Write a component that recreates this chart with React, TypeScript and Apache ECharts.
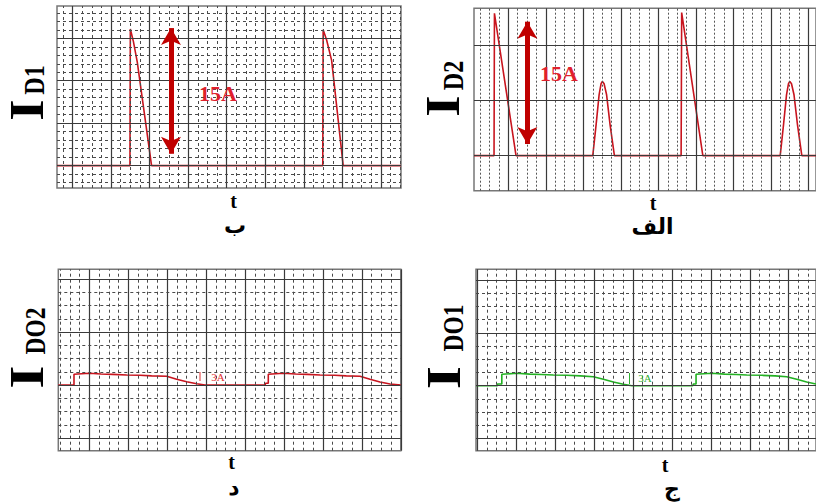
import React, { useEffect, useRef } from 'react';
import * as echarts from 'echarts';

// ---------- data (x in time divisions, y in amperes) ----------
// Panel ب : I_D1
const d1Time = [-0.4, 1.49, 1.5, 1.58, 1.68, 2.05, 6.49, 6.5, 6.59, 6.72, 7.02, 8.52];
const d1Current = [0, 0, 16.1, 14.6, 12.2, 0, 0, 16.0, 14.8, 12.4, 0, 0];

// Panel الف : I_D2
const d2Time = [-0.915, -0.381, -0.37, 0.205, 2.251, 2.339, 2.419, 2.472, 2.507, 2.552, 2.619, 2.712, 2.827,
  4.605, 4.62, 5.184, 7.246, 7.334, 7.414, 7.467, 7.502, 7.547, 7.614, 7.707, 7.822, 8.2];
const d2Current = [0, 0, 18.0, 0, 0, 3.9, 7.7, 9.1, 9.4, 9.1, 7.7, 3.9, 0,
  0, 18.1, 0, 0, 3.9, 7.7, 9.1, 9.4, 9.1, 7.7, 3.9, 0, 0];

// Panel د : I_DO2
const do2Time = [-0.796, -0.393, -0.393, 0.0, 0.3, 0.6, 0.96, 1.3, 1.6, 1.988, 2.244, 2.501, 2.758, 2.971,
  4.512, 4.53, 4.597, 4.597, 4.982, 5.3, 5.6, 5.925, 6.3, 6.6, 6.952, 7.209, 7.466, 7.723, 8.0];
const do2Current = [0, 0, 3.03, 3.31, 3.1, 3.0, 2.83, 2.75, 2.6, 2.46, 1.61, 0.93, 0.37, 0,
  0, 0.48, 0.48, 3.03, 3.31, 3.1, 3.0, 2.83, 2.75, 2.6, 2.46, 1.61, 0.85, 0.28, 0];

// Panel ج : I_DO1
const do1Time = [-1.027, -0.48, -0.48, -0.367, -0.367, 0.018, 0.35, 0.65, 0.957, 1.3, 1.65, 1.984, 2.241, 2.497, 2.754, 2.97,
  4.535, 4.551, 4.62, 4.62, 5.023, 5.35, 5.65, 5.921, 6.3, 6.65, 6.948, 7.205, 7.461, 7.7];
const do1Current = [0, 0, 0.48, 0.48, 3.24, 3.52, 3.3, 3.2, 3.04, 2.95, 2.8, 2.56, 1.82, 1.05, 0.4, 0,
  0, 0.48, 0.48, 3.24, 3.52, 3.3, 3.2, 3.04, 2.95, 2.8, 2.56, 1.82, 1.05, 0.48];

// 15A arrows [x, yFrom, yTo]
const arrowD1 = [2.554, 1.4, 16.2];
const arrowD2 = [0.507, 1.48, 16.95];

// axis extents [xMin, xMax, yMin, yMax, yMajor, yMinorCount]
const axesD1 = [-0.402, 8.519, -2.63, 18.8, 5, 5];
const axesD2 = [-0.915, 8.2, -4.43, 18.64, 7, 0];
const axesDO2 = [-0.796, 8.0, -18.59, 32.75, 15, 4];
const axesDO1 = [-1.03, 7.7, -18.48, 33.09, 15, 4];

const RED = '#c8141e';
const GREEN = '#22b022';

const majorStyle = { color: '#3a3a3a', width: 1.2, type: 'solid' as const };
const minorStyle = { color: '#4a4a4a', width: 1, type: [3, 3] as any };
const dotStyle = { color: '#555', width: 1, type: [2, 2] as any };

function gridLineData(ax: number[]) {
  const [xMin, xMax, yMin, yMax, yMajor, yMinorN] = ax;
  const out: any[] = [];
  const minorX = yMinorN > 0 ? minorStyle : dotStyle;
  for (let k = Math.ceil(xMin * 4 - 1e-6); k <= Math.floor(xMax * 4 + 1e-6); k++) {
    const v = k / 4;
    out.push({ xAxis: v, lineStyle: k % 4 === 0 ? majorStyle : minorX });
  }
  const step = yMinorN > 0 ? yMajor / yMinorN : yMajor;
  for (let k = Math.ceil(yMin / step - 1e-6); k <= Math.floor(yMax / step + 1e-6); k++) {
    const v = k * step;
    const isMajor = yMinorN > 0 ? k % yMinorN === 0 : true;
    out.push({ yAxis: v, lineStyle: isMajor ? majorStyle : minorStyle });
  }
  return out;
}

function zip(a: number[], b: number[]) {
  return a.map((v, i) => [v, b[i]]);
}

export default function App() {
  const ref = useRef<HTMLDivElement>(null);
  useEffect(() => {
    if (!ref.current) return;
    const chart = echarts.init(ref.current, undefined, { renderer: 'svg' });
    const panels = [
      { rect: [57, 6, 344, 182], ax: axesD1, t: d1Time, v: d1Current, color: RED, arrow: arrowD1 },
      { rect: [474, 8.3, 342, 182.4], ax: axesD2, t: d2Time, v: d2Current, color: RED, arrow: arrowD2 },
      { rect: [58.3, 269.3, 342.5, 181.4], ax: axesDO2, t: do2Time, v: do2Current, color: RED, arrow: null },
      { rect: [476, 269.3, 340, 181.4], ax: axesDO1, t: do1Time, v: do1Current, color: GREEN, arrow: null },
    ];
    const grid: any[] = [];
    const xAxis: any[] = [];
    const yAxis: any[] = [];
    const series: any[] = [];
    panels.forEach((p, i) => {
      grid.push({
        left: p.rect[0], top: p.rect[1], width: p.rect[2], height: p.rect[3],
        show: true, borderColor: '#777', borderWidth: 1.5, backgroundColor: '#fff',
      });
      xAxis.push({ type: 'value', gridIndex: i, min: p.ax[0], max: p.ax[1], show: false });
      yAxis.push({ type: 'value', gridIndex: i, min: p.ax[2], max: p.ax[3], show: false });
      series.push({
        type: 'line', xAxisIndex: i, yAxisIndex: i, data: [], z: 1, silent: true,
        markLine: {
          silent: true, symbol: ['none', 'none'], label: { show: false }, animation: false,
          emphasis: { disabled: true },
          data: gridLineData(p.ax),
        },
      });
      series.push({
        type: 'line', xAxisIndex: i, yAxisIndex: i, z: 3, silent: true,
        data: zip(p.t, p.v), showSymbol: false, symbol: 'none',
        lineStyle: { color: p.color, width: 1.6 },
      });
      if (p.arrow) {
        series.push({
          type: 'line', xAxisIndex: i, yAxisIndex: i, data: [], z: 4, silent: true,
          markLine: {
            silent: true, symbol: ['arrow', 'arrow'], symbolSize: [15, 17], label: { show: false },
            animation: false, emphasis: { disabled: true },
            lineStyle: { color: '#c00000', width: 5, type: 'solid' },
            data: [[{ coord: [p.arrow[0], p.arrow[1]] }, { coord: [p.arrow[0], p.arrow[2]] }]],
          },
        });
      }
    });

    const serif = "'Times New Roman', 'Liberation Serif', serif";
    const arabic = "'DejaVu Sans', sans-serif";
    const txt = (text: string, x: number, y: number, size: number, fill: string, family: string,
      weight = 'bold', rotation = 0, scaleX = 1) => ({
      type: 'text', x, y, rotation, scaleX, z: 10,
      style: { text, fontSize: size, fontWeight: weight, fontFamily: family, fill, align: 'center', verticalAlign: 'middle' },
    });
    const R = Math.PI / 2;
    const graphic: any[] = [
      txt('15A', 218, 93, 22, '#e0202c', serif),
      txt('15A', 559, 73, 22, '#e0202c', serif),
      txt('t', 233.5, 201, 20, '#000', serif),
      txt('t', 653, 203, 20, '#000', serif),
      txt('t', 231.7, 462, 20, '#000', serif),
      txt('t', 665, 465, 20, '#000', serif),
      txt('ب', 235, 225, 22, '#000', arabic),
      txt('الف', 652.5, 226, 22, '#000', arabic),
      txt('د', 234, 487, 22, '#000', arabic),
      txt('ج', 672, 488, 22, '#000', arabic),
      txt('I', 27, 110, 48, '#000', serif, 'bold', R, 1.15),
      txt('D1', 34, 80, 30, '#000', serif, 'bold', R, 0.8),
      txt('I', 442.5, 106, 48, '#000', serif, 'bold', R, 1.15),
      txt('D2', 453, 75.5, 30, '#000', serif, 'bold', R, 0.8),
      txt('I', 27, 377, 48, '#000', serif, 'bold', R, 1.25),
      txt('DO2', 35, 331, 30, '#000', serif, 'bold', R, 0.78),
      txt('I', 444, 377.5, 48, '#000', serif, 'bold', R, 1.25),
      txt('DO1', 453, 328, 30, '#000', serif, 'bold', R, 0.78),
      txt('3A', 218, 377, 11, '#e03030', serif, 'normal'),
      txt('3A', 645, 378, 11, '#30b030', serif, 'normal'),
      { type: 'line', z: 10, shape: { x1: 200, y1: 372, x2: 200, y2: 381 }, style: { stroke: '#e03030', lineWidth: 1 } },
      { type: 'line', z: 10, shape: { x1: 629.5, y1: 373, x2: 629.5, y2: 384 }, style: { stroke: '#30b030', lineWidth: 1 } },
    ];

    chart.setOption({ animation: false, backgroundColor: '#fff', grid, xAxis, yAxis, series, graphic });
    return () => chart.dispose();
  }, []);
  return <div ref={ref} style={{ position: 'fixed', left: 0, top: 0, width: 816, height: 503 }} />;
}
